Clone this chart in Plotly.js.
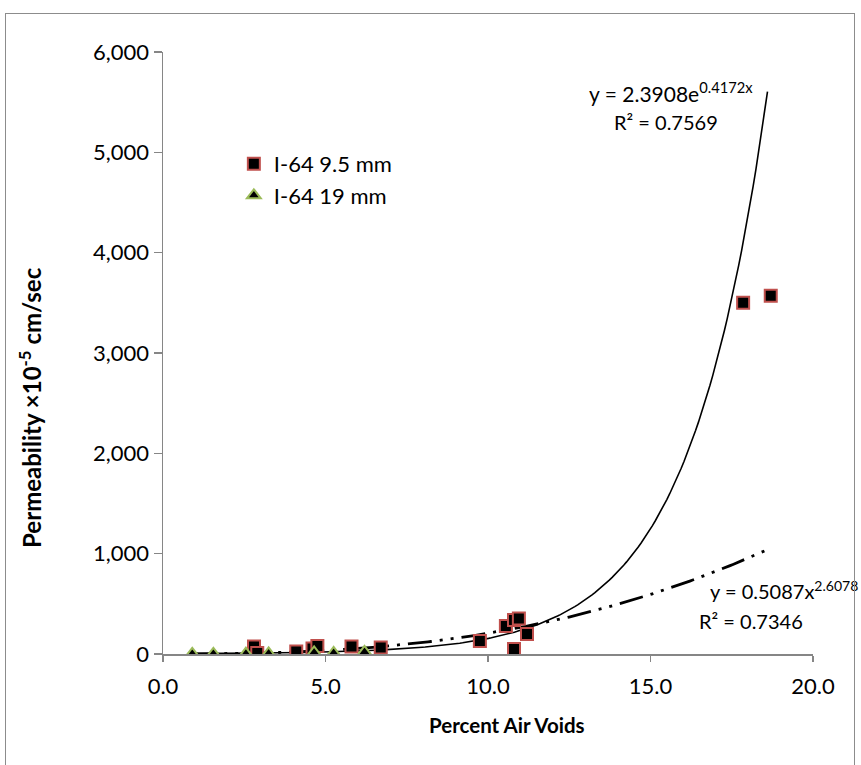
<!DOCTYPE html>
<html>
<head>
<meta charset="utf-8">
<script src="https://cdn.plot.ly/plotly-3.0.1.min.js"></script>
<style>
  html, body { margin: 0; padding: 0; background: #ffffff; }
  #wrap { position: relative; width: 861px; height: 765px; overflow: hidden; }
  #frame { position: absolute; left: 5px; top: 13px; width: 850px; height: 780px;
           border: 1.5px solid #8c8c8c; box-sizing: border-box; pointer-events: none; }
  #chart { position: absolute; left: 0; top: 0; width: 861px; height: 765px; }
</style>
</head>
<body>
<div id="wrap">
  <div id="chart"></div>
  <div id="frame"></div>
</div>
<script>
// I-64 9.5 mm mix: air voids (%) and permeability (x10^-5 cm/sec)
const voids95 = [2.8, 2.9, 4.1, 4.6, 4.75, 5.8, 6.7, 9.75, 10.55, 10.8, 10.95, 10.8, 11.2, 17.85, 18.7];
const perm95  = [75, 10, 25, 55, 80, 75, 65, 130, 280, 340, 355, 50, 200, 3500, 3570];

// I-64 19 mm mix
const voids19 = [0.9, 1.55, 2.55, 3.25, 4.65, 5.25, 6.2];
const perm19  = [2, 2, 3, 5, 15, 10, 20];

// Fitted trend lines (coefficients as reported on the chart)
const expA = 2.3908, expB = 0.4172, expR2 = '0.7569';
const powA = 0.5087, powB = 2.6078, powR2 = '0.7346';
const trendStart = 0.9, trendEnd = 18.6;

const trendX = [];
for (let i = 0; i <= 200; i++) trendX.push(trendStart + (trendEnd - trendStart) * i / 200);
const expY = trendX.map(x => expA * Math.exp(expB * x));
const powY = trendX.map(x => powA * Math.pow(x, powB));

const FONT = 'Lato, "Open Sans", sans-serif';

const traces = [
  {
    x: trendX, y: expY, mode: 'lines', showlegend: false, hoverinfo: 'skip',
    line: { color: '#000000', width: 1.6 }
  },
  {
    x: trendX, y: powY, mode: 'lines', showlegend: false, hoverinfo: 'skip',
    line: { color: '#000000', width: 2.8, dash: '24px,8px,3px,8px,3px,8px' }
  },
  {
    x: voids95, y: perm95, mode: 'markers', name: 'I-64 9.5 mm',
    marker: { symbol: 'square', size: 12, color: '#000000',
              line: { color: '#C0504D', width: 2 } }
  },
  {
    x: voids19, y: perm19, mode: 'markers', name: 'I-64 19 mm',
    marker: { symbol: 'triangle-up', size: 12, color: '#000000',
              line: { color: '#9BBB59', width: 2 } }
  }
];

const layout = {
  width: 861, height: 765,
  paper_bgcolor: '#ffffff', plot_bgcolor: '#ffffff',
  margin: { l: 163, r: 48, t: 52, b: 111 },
  font: { family: FONT, size: 22, color: '#000000' },
  showlegend: true,
  legend: {
    x: 0.109, y: 0.849, xanchor: 'left', yanchor: 'top',
    bgcolor: 'rgba(0,0,0,0)', font: { family: FONT, size: 22 },
    itemsizing: 'constant', tracegroupgap: 0
  },
  xaxis: {
    range: [0, 20], dtick: 5, tickformat: '.1f',
    showgrid: false, zeroline: false,
    showline: true, linecolor: '#868686', linewidth: 1.5,
    ticks: 'outside', ticklen: 6, tickcolor: '#868686', tickwidth: 1.5,
    ticklabelstandoff: 6,
    tickfont: { family: FONT, size: 22 }
  },
  yaxis: {
    range: [0, 6000], dtick: 1000, tickformat: ',d',
    showgrid: false, zeroline: false,
    showline: true, linecolor: '#868686', linewidth: 1.5,
    ticks: 'outside', ticklen: 8, tickcolor: '#868686', tickwidth: 1.5,
    tickfont: { family: FONT, size: 22 }
  },
  annotations: [
    // axis titles
    { xref: 'paper', yref: 'paper', x: 0.529, y: -0.118, xanchor: 'center', yanchor: 'middle',
      showarrow: false, font: { family: FONT, size: 20.5 },
      text: '<b>Percent Air Voids</b>' },
    { xref: 'paper', yref: 'paper', x: -0.205, y: 0.41, xanchor: 'center', yanchor: 'middle',
      showarrow: false, textangle: -90, font: { family: FONT, size: 24 },
      text: '<b>Permeability ×10<sup>-5</sup> cm/sec</b>' },
    // trend line equations
    { xref: 'paper', yref: 'paper', x: 0.653, y: 0.933, xanchor: 'left', yanchor: 'middle',
      showarrow: false, font: { family: FONT, size: 21 },
      text: 'y = ' + expA + 'e<sup>' + expB + 'x</sup>' },
    { xref: 'paper', yref: 'paper', x: 0.69, y: 0.884, xanchor: 'left', yanchor: 'middle',
      showarrow: false, font: { family: FONT, size: 20 },
      text: 'R² = ' + expR2 },
    { xref: 'paper', yref: 'paper', x: 0.838, y: 0.107, xanchor: 'left', yanchor: 'middle',
      showarrow: false, font: { family: FONT, size: 20 },
      text: 'y = ' + powA + 'x<sup>' + powB + '</sup>' },
    { xref: 'paper', yref: 'paper', x: 0.822, y: 0.054, xanchor: 'left', yanchor: 'middle',
      showarrow: false, font: { family: FONT, size: 20 },
      text: 'R² = ' + powR2 }
  ]
};

Plotly.newPlot('chart', traces, layout, { displayModeBar: false, staticPlot: true });
</script>
</body>
</html>
